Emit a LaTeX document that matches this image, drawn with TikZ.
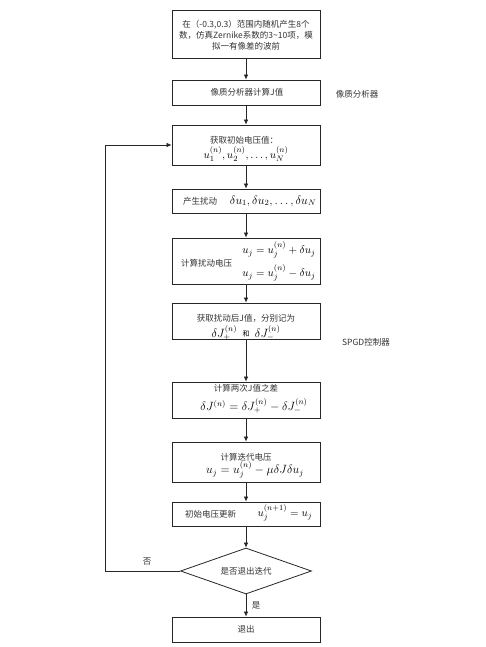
\documentclass[tikz,border=0pt]{standalone}
\usepackage{fontspec}
\setmainfont{Noto Sans CJK SC}
\usetikzlibrary{arrows.meta,shapes.geometric}
\begin{document}
\begin{tikzpicture}[x=1pt,y=-1pt,
  box/.style={draw=black!85,line width=0.8pt,minimum width=148pt,inner sep=0pt,rectangle},
  txt/.style={font=\fontsize{8.5}{11}\selectfont,text=black!80,inner sep=0pt},
  mth/.style={font=\fontsize{11}{13}\selectfont,inner sep=0pt},
  arr/.style={draw=black!85,line width=0.7pt,-{Latex[length=5pt,width=4.5pt]}}]
\useasboundingbox (0,0) rectangle (485,647);
\fill[white] (0,0) rectangle (485,647);
% boxes
\node[box,minimum height=48pt] (b1) at (246,34) {};
\node[box,minimum height=25pt] (b2) at (246,92.5) {};
\node[box,minimum height=40pt] (b3) at (246,145) {};
\node[box,minimum height=24pt] (b4) at (246,201) {};
\node[box,minimum height=46pt] (b5) at (246,261) {};
\node[box,minimum height=36pt] (b6) at (246,321) {};
\node[box,minimum height=36pt] (b7) at (246,400) {};
\node[box,minimum height=40pt] (b8) at (246,462) {};
\node[box,minimum height=24pt] (b9) at (246,514) {};
\node[draw=black!85,line width=0.8pt,diamond,aspect=2.85,minimum width=131pt,minimum height=46pt,inner sep=0pt] (d) at (246,571) {};
\node[box,minimum height=25pt] (ex) at (246,629.5) {};
% texts
\node[txt,align=center] (t1) at (246,35) {在（-0.3,0.3）范围内随机产生8个\\数，仿真Zernike系数的3\textasciitilde10项，模\\拟一有像差的波前};
\node[txt] (t2) at (247,92.5) {像质分析器计算J值};
\node[txt] (l2) at (357,94) {像质分析器};
\node[txt] (t3) at (244,140) {获取初始电压值：};
\node[mth] (m3) at (246,154) {$u_1^{(n)},u_2^{(n)},\ldots,u_N^{(n)}$};
\node[txt] (t4) at (200,201) {产生扰动};
\node[mth] (m4) at (273,201) {\fontsize{12}{14}\selectfont$\delta u_1,\delta u_2,\ldots,\delta u_N$};
\node[txt] (t5) at (206.5,263) {计算扰动电压};
\node[mth] (m5a) at (279,250) {$u_j=u_j^{(n)}+\delta u_j$};
\node[mth] (m5b) at (279,273) {$u_j=u_j^{(n)}-\delta u_j$};
\node[txt] (t6) at (246,318) {获取扰动后J值，分别记为};
\node[mth] (m6) at (246,333) {\fontsize{12}{14}\selectfont$\delta J_+^{(n)}$\ \ \raisebox{1pt}{\fontsize{7}{8}\selectfont 和}\ \ $\delta J_-^{(n)}$};
\node[txt] (l6) at (366,342) {SPGD控制器};
\node[txt] (t7) at (246,388) {计算两次J值之差};
\node[mth] (m7) at (254,406) {\fontsize{12}{14}\selectfont$\delta J^{(n)}=\delta J_+^{(n)}-\delta J_-^{(n)}$};
\node[txt] (t8) at (246,457) {计算迭代电压};
\node[mth] (m8) at (255,470) {\fontsize{12}{14}\selectfont$u_j=u_j^{(n)}-\mu\delta J\delta u_j$};
\node[txt] (t9) at (210.5,514) {初始电压更新};
\node[mth] (m9) at (285,513) {$u_j^{(n+1)}=u_j$};
\node[txt] (td) at (246,571) {是否退出迭代};
\node[txt] (tex) at (246,629.5) {退出};
\node[txt] (no) at (147,562) {否};
\node[txt] (yes) at (256,605) {是};
% connectors
\draw[arr] (b1) -- (b2);
\draw[arr] (b2) -- (b3);
\draw[arr] (b3) -- (b4);
\draw[arr] (b4) -- (b5);
\draw[arr] (b5) -- (b6);
\draw[arr] (b6) -- (b7);
\draw[arr] (b7) -- (b8);
\draw[arr] (b8) -- (b9);
\draw[arr] (b9) -- (d);
\draw[arr] (d) -- (ex);
\coordinate (c1) at (105,571);
\coordinate (c2) at (105,145);
\draw[arr] (d.west) -- (c1) -- (c2) -- (b3.west);
\end{tikzpicture}
\end{document}
